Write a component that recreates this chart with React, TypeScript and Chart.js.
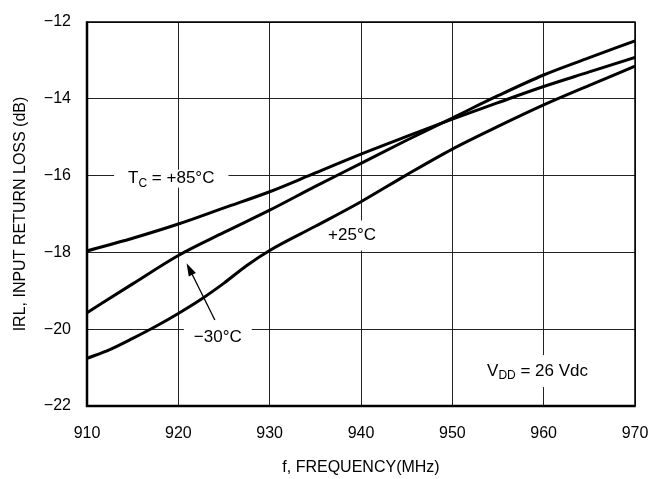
import React, { useEffect, useRef } from "react";
import { Chart, registerables } from "chart.js";
Chart.register(...registerables);

const FREQ = [910, 915, 920, 925, 930, 935, 940, 945, 950, 955, 960, 965, 970];
const IRL_P85 = [-17.96, -17.63, -17.26, -16.84, -16.42, -15.93, -15.44, -14.98, -14.53, -14.1, -13.68, -13.3, -12.92];
const IRL_M30 = [-19.57, -18.82, -18.08, -17.48, -16.9, -16.28, -15.68, -15.08, -14.5, -13.92, -13.38, -12.93, -12.49];
const FREQ_25 = [910, 912.5, 915, 917.5, 920, 922.5, 925, 927.5, 930, 935, 940, 945, 950, 955, 960, 965, 970];
const IRL_P25 = [-20.76, -20.53, -20.24, -19.93, -19.59, -19.22, -18.8, -18.34, -17.95, -17.32, -16.68, -15.98, -15.31, -14.72, -14.16, -13.65, -13.15];

const X_MIN = 910, X_MAX = 970, X_STEP = 10;
const Y_MIN = -22, Y_MAX = -12, Y_STEP = 2;

const FONT = '"Liberation Sans Narrow", "Liberation Sans", Arial, sans-serif';

// annotation anchors (data coordinates)
const LABEL_TC = { x: 914.5, y: -16.08 };
const LABEL_M30 = { x: 921.7, y: -20.22 };
const LABEL_P25 = { x: 936.4, y: -17.56 };
const LABEL_VDD = { x: 953.8, y: -21.09 };
const ARROW_FROM = { x: 924.0, y: -19.76 };
const ARROW_TO = { x: 920.9, y: -18.28 };

function toXY(arr: number[], ys: number[]) {
  return arr.map((x, i) => ({ x, y: ys[i] }));
}

const MAIN = `17px ${FONT}`;
const SUB = `12px ${FONT}`;

type Part = { t: string; sub?: boolean };
const LABELS: { at: { x: number; y: number }; parts: Part[]; padX: number; padY: number }[] = [
  { at: LABEL_TC, parts: [{ t: "T" }, { t: "C", sub: true }, { t: " = +85\u00B0C" }], padX: 14, padY: 0 },
  { at: LABEL_M30, parts: [{ t: "\u221230\u00B0C" }], padX: 10, padY: 0 },
  { at: LABEL_P25, parts: [{ t: "+25\u00B0C" }], padX: 4, padY: 6 },
  { at: LABEL_VDD, parts: [{ t: "V" }, { t: "DD", sub: true }, { t: " = 26 Vdc" }], padX: 4, padY: 7 },
];

function partsWidth(ctx: CanvasRenderingContext2D, parts: Part[]) {
  let w = 0;
  parts.forEach((p) => {
    ctx.font = p.sub ? SUB : MAIN;
    w += ctx.measureText(p.t).width;
  });
  return w;
}

const overlayPlugin = {
  id: "overlay",
  beforeDatasetsDraw(chart: any) {
    const { ctx, scales } = chart;
    ctx.save();
    ctx.fillStyle = "#fff";
    LABELS.forEach((l) => {
      const x0 = scales.x.getPixelForValue(l.at.x);
      const yc = scales.y.getPixelForValue(l.at.y);
      const w = partsWidth(ctx, l.parts);
      ctx.fillRect(x0 - l.padX, yc - 9 - l.padY, w + 2 * l.padX, 18 + 2 * l.padY);
    });
    ctx.restore();
  },
  afterDraw(chart: any) {
    const { ctx, chartArea, scales } = chart;
    const px = (v: number) => scales.x.getPixelForValue(v);
    const py = (v: number) => scales.y.getPixelForValue(v);
    ctx.save();
    // frame
    ctx.strokeStyle = "#000";
    ctx.lineWidth = 1.5;
    ctx.beginPath();
    ctx.moveTo(chartArea.left, chartArea.top);
    ctx.lineTo(chartArea.right, chartArea.top);
    ctx.lineTo(chartArea.right, chartArea.bottom);
    ctx.stroke();
    ctx.lineWidth = 2.5;
    ctx.beginPath();
    ctx.moveTo(chartArea.left, chartArea.top - 0.75);
    ctx.lineTo(chartArea.left, chartArea.bottom);
    ctx.lineTo(chartArea.right + 0.75, chartArea.bottom);
    ctx.stroke();

    ctx.textBaseline = "middle";
    ctx.textAlign = "left";
    ctx.fillStyle = "#000";
    LABELS.forEach((l) => {
      let x = px(l.at.x);
      const yc = py(l.at.y);
      l.parts.forEach((p) => {
        ctx.font = p.sub ? SUB : MAIN;
        ctx.fillText(p.t, x, p.sub ? yc + 5 : yc);
        x += ctx.measureText(p.t).width;
      });
    });

    // arrow
    const ax0 = px(ARROW_FROM.x), ay0 = py(ARROW_FROM.y);
    const ax1 = px(ARROW_TO.x), ay1 = py(ARROW_TO.y);
    const ang = Math.atan2(ay1 - ay0, ax1 - ax0);
    ctx.strokeStyle = "#000";
    ctx.lineWidth = 1.3;
    ctx.beginPath();
    ctx.moveTo(ax0, ay0);
    ctx.lineTo(ax1 - 8 * Math.cos(ang), ay1 - 8 * Math.sin(ang));
    ctx.stroke();
    ctx.beginPath();
    ctx.moveTo(ax1, ay1);
    ctx.lineTo(ax1 - 13 * Math.cos(ang) + 4 * Math.sin(ang), ay1 - 13 * Math.sin(ang) - 4 * Math.cos(ang));
    ctx.lineTo(ax1 - 13 * Math.cos(ang) - 4 * Math.sin(ang), ay1 - 13 * Math.sin(ang) + 4 * Math.cos(ang));
    ctx.closePath();
    ctx.fill();
    ctx.restore();
  },
};

export default function App() {
  const ref = useRef<HTMLCanvasElement>(null);
  useEffect(() => {
    document.body.style.margin = "0";
    const lineStyle = {
      borderColor: "#000",
      borderWidth: 3,
      pointRadius: 0,
      fill: false,
      cubicInterpolationMode: "monotone" as const,
    };
    const chart = new Chart(ref.current!, {
      type: "line",
      data: {
        datasets: [
          { label: "TC = +85°C", data: toXY(FREQ, IRL_P85), ...lineStyle },
          { label: "−30°C", data: toXY(FREQ, IRL_M30), ...lineStyle },
          { label: "+25°C", data: toXY(FREQ_25, IRL_P25), ...lineStyle },
        ],
      },
      options: {
        animation: false,
        responsive: false,
        layout: { padding: { left: 0, right: 13, top: 22, bottom: 0 } },
        plugins: { legend: { display: false }, tooltip: { enabled: false } },
        scales: {
          x: {
            type: "linear",
            min: X_MIN,
            max: X_MAX,
            afterFit: (s: any) => { s.height = 73; s.paddingLeft = 0; s.paddingRight = 0; },
            ticks: { stepSize: X_STEP, color: "#000", font: { family: FONT, size: 16 }, padding: 18 },
            grid: { color: "#222", lineWidth: 1, drawTicks: false },
            border: { display: false },
            title: { display: true, text: "f, FREQUENCY(MHz)", color: "#000", font: { family: FONT, size: 16 }, padding: { top: 0, bottom: 2 } },
          },
          y: {
            type: "linear",
            min: Y_MIN,
            max: Y_MAX,
            afterFit: (s: any) => { s.width = 87; s.paddingTop = 0; s.paddingBottom = 0; },
            ticks: {
              stepSize: Y_STEP,
              color: "#000",
              font: { family: FONT, size: 16 },
              padding: 16,
              callback: (v: any) => String(v).replace("-", "\u2212"),
            },
            grid: { color: "#222", lineWidth: 1, drawTicks: false },
            border: { display: false },
            title: { display: true, text: "IRL, INPUT RETURN LOSS (dB)", color: "#000", font: { family: FONT, size: 16 }, padding: { top: 11, bottom: 0 } },
          },
        },
      },
      plugins: [overlayPlugin],
    });
    return () => chart.destroy();
  }, []);
  return <canvas ref={ref} width={648} height={479} style={{ display: "block" }} />;
}
